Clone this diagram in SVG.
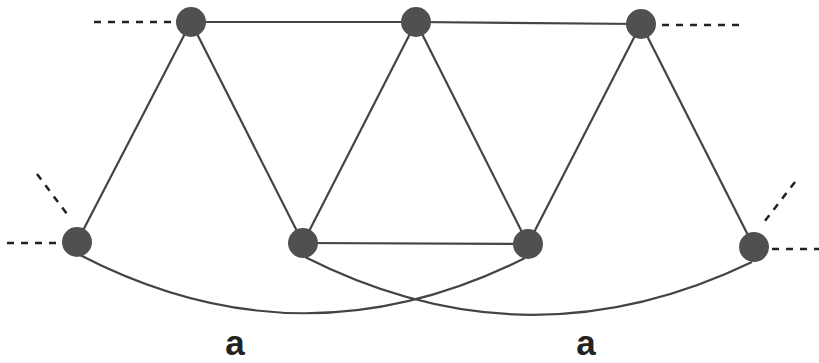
<svg xmlns="http://www.w3.org/2000/svg" width="819" height="363" viewBox="0 0 819 363">
<style>
.edge{stroke:#444;stroke-width:2.2;fill:none}
.dash{stroke:#222;stroke-width:2.5;stroke-dasharray:7 7;fill:none}
.node{fill:#505050}
.lbl{font-family:"Liberation Sans",Arial,sans-serif;font-size:35px;font-weight:bold;fill:#222;text-anchor:middle}
</style>
<rect width="819" height="363" fill="#fff"/>
<g id="connectors">
<line class="edge" x1="191" y1="22" x2="416" y2="22"/>
<line class="edge" x1="416" y1="22" x2="641" y2="24"/>
<line class="edge" x1="191" y1="22" x2="77" y2="242"/>
<line class="edge" x1="191" y1="22" x2="303" y2="243"/>
<line class="edge" x1="416" y1="22" x2="303" y2="243"/>
<line class="edge" x1="416" y1="22" x2="528" y2="244"/>
<line class="edge" x1="641" y1="24" x2="528" y2="244"/>
<line class="edge" x1="641" y1="24" x2="754" y2="247"/>
<line class="edge" x1="303" y1="243" x2="528" y2="244"/>
<path class="edge" d="M80,255 Q302,370 525,258"/>
<path class="edge" d="M305,257 Q528,370 752,262"/>
<line class="dash" x1="94" y1="22" x2="172" y2="22"/>
<line class="dash" x1="662" y1="25" x2="742" y2="25"/>
<line class="dash" x1="7" y1="243" x2="60" y2="243"/>
<line class="dash" x1="37" y1="174" x2="70" y2="218"/>
<line class="dash" x1="772" y1="249" x2="819" y2="249"/>
<line class="dash" x1="795" y1="182" x2="761" y2="226"/>
</g>
<g id="n1"><circle class="node" cx="191" cy="22" r="15"/></g>
<g id="n2"><circle class="node" cx="416" cy="22" r="15"/></g>
<g id="n3"><circle class="node" cx="641" cy="24" r="15"/></g>
<g id="n4"><circle class="node" cx="77" cy="242" r="15"/></g>
<g id="n5"><circle class="node" cx="303" cy="243" r="15"/></g>
<g id="n6"><circle class="node" cx="528" cy="244" r="15"/></g>
<g id="n7"><circle class="node" cx="754" cy="247" r="15"/></g>
<g id="labels">
<text class="lbl" x="235" y="355">a</text>
<text class="lbl" x="586" y="355">a</text>
</g>
</svg>
